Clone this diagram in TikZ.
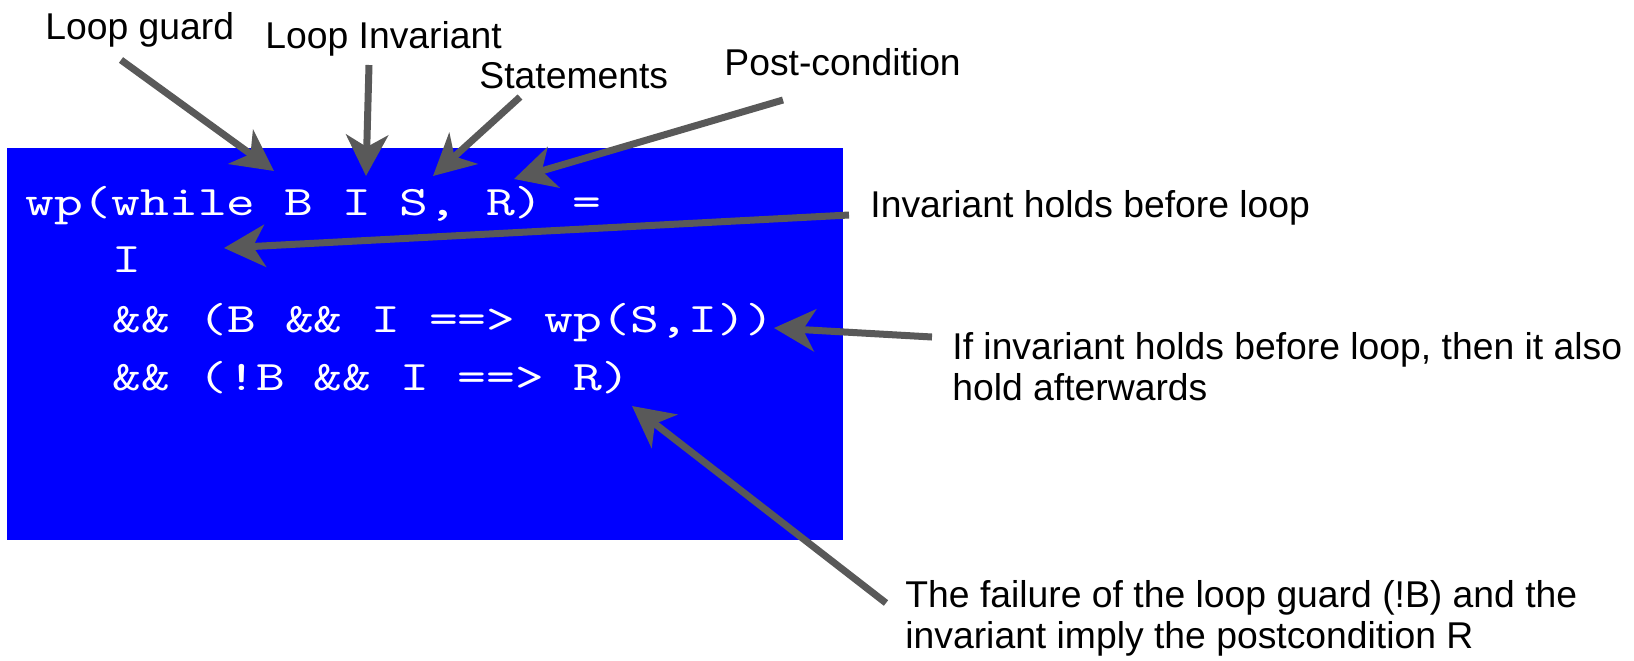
\documentclass[tikz,border=0pt]{standalone}
\usepackage{fontspec}
\setmainfont{Liberation Sans}
\newfontfamily\codefont{lmmono10-regular.otf}[FakeStretch=1.306]
\usetikzlibrary{arrows.meta}
\definecolor{codeblue}{RGB}{0,0,255}
\definecolor{pointergray}{RGB}{89,89,89}

\begin{document}
\begin{tikzpicture}[x=0.5pt,y=-0.5pt,
  codeline/.style={anchor=base west,inner sep=0pt,text=white,font=\fontsize{21}{26}\selectfont\codefont},
  note/.style={anchor=base west,inner sep=0pt,font=\fontsize{18.65}{20.5}\selectfont},
  pointer/.style={draw=pointergray,line width=3.5pt,-{Stealth[length=20.5pt,width=21pt,inset=6pt]}}]
\useasboundingbox (0,0) rectangle (1634,660);

% code box
\fill[codeblue] (7,148) rectangle (843,540);
\node[codeline] (wpline)  at (25,215)  {wp(while B I S, R) =};
\node[codeline] (invline) at (112,272) {I};
\node[codeline] (bodyline) at (112,332) {\&\& (B \&\& I ==> wp(S,I))};
\node[codeline] (exitline) at (112,390) {\&\& (!B \&\& I ==> R)};

% labels
\node[note] (guard) at (45,39)  {Loop guard};
\node[note] (inv)   at (265,48) {Loop Invariant};
\node[note] (stmts) at (479,88) {Statements};
\node[note] (post)  at (724,75) {Post-condition};
\node[note] (before) at (870,217) {Invariant holds before loop};
\node[note] (after)  at (952,359) {If invariant holds before loop, then it also};
\node[note] (after2) at (952,400) {hold afterwards};
\node[note] (fail)   at (905,607) {The failure of the loop guard (!B) and the};
\node[note] (fail2)  at (905,648) {invariant imply the postcondition R};

% arrow ends
\coordinate (guard-tail) at (121,60);   \coordinate (guard-tip) at (274,171);
\coordinate (inv-tail) at (369,65);     \coordinate (inv-tip) at (366,176);
\coordinate (stmts-tail) at (520,97);   \coordinate (stmts-tip) at (433,176);
\coordinate (post-tail) at (783,100);   \coordinate (post-tip) at (514,179);
\coordinate (before-tail) at (849,215); \coordinate (before-tip) at (224,248);
\coordinate (after-tail) at (932,337);  \coordinate (after-tip) at (774,328);
\coordinate (fail-tail) at (886,603);   \coordinate (fail-tip) at (632,406);

\foreach \from in {guard,inv,stmts,post,before,after,fail}
  \draw[pointer] (\from-tail) -- (\from-tip);
\end{tikzpicture}
\end{document}
